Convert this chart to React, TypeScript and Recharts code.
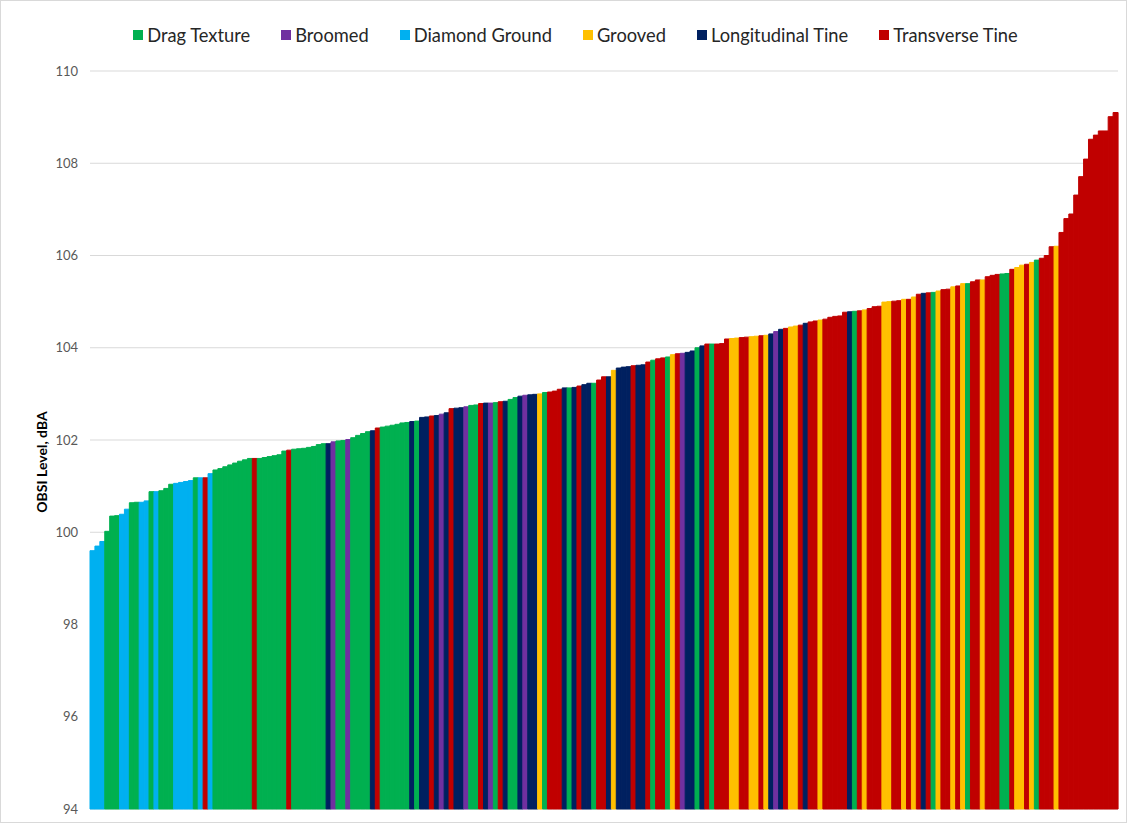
import { Bar, BarChart, CartesianGrid, Cell, XAxis, YAxis } from "recharts";

// texture codes: G drag, P broomed, D diamond ground, Y grooved, N longitudinal tine, R transverse tine
const textureCodes = ["G", "P", "D", "Y", "N", "R"];
const textureNames = ["Drag Texture", "Broomed", "Diamond Ground", "Grooved", "Longitudinal Tine", "Transverse Tine"];
const textureColors = ["#00B050", "#7030A0", "#00B0F0", "#FFC000", "#002060", "#C00000"];

const yTicks = [94, 96, 98, 100, 102, 104, 106, 108, 110];

// one code per test section, sorted by OBSI level
const sectionTexture = (
  "DDDGGGDDGG" + "DDGDGGGDDD" + "DGDRDGGGGG" + "GGGRGGGGGG" + "RGGGGGGGNP" +
  "GGPGGGGNRG" + "GGGGGNGNNR" + "NPNRNNPGGR" + "NPGRNGGNPN" + "NYGRRRNGNR" +
  "NNGRRNYNNN" + "RNNRGRRGYR" + "PNNGNRGRRR" + "YYRRYYRYNP" + "NRYYRNRRYR" +
  "RRRRNGRYRR" + "RYYRRYRYRN" + "RGYRRYRYGR" + "RYRRRGGRYY" + "RYGRRRYRRR" +
  "RRRRRRRRR"
).split("");

const obsiLevel = [
  99.6, 99.7, 99.8, 100.02, 100.35, 100.36, 100.39, 100.5, 100.64, 100.65,
  100.65, 100.68, 100.88, 100.88, 100.9, 100.95, 101.04, 101.06, 101.08, 101.1,
  101.12, 101.18, 101.18, 101.18, 101.27, 101.35, 101.38, 101.42, 101.46, 101.5,
  101.54, 101.57, 101.6, 101.6, 101.6, 101.62, 101.64, 101.66, 101.68, 101.76,
  101.78, 101.8, 101.81, 101.82, 101.84, 101.86, 101.9, 101.92, 101.92, 101.96,
  101.98, 101.99, 102.01, 102.05, 102.1, 102.14, 102.18, 102.2, 102.26, 102.28,
  102.3, 102.32, 102.34, 102.37, 102.38, 102.4, 102.41, 102.49, 102.5, 102.52,
  102.53, 102.56, 102.59, 102.68, 102.69, 102.7, 102.72, 102.75, 102.76, 102.79,
  102.8, 102.8, 102.81, 102.83, 102.84, 102.88, 102.92, 102.95, 102.97, 102.98,
  102.99, 103.0, 103.03, 103.04, 103.06, 103.1, 103.13, 103.13, 103.14, 103.17,
  103.2, 103.23, 103.23, 103.3, 103.37, 103.37, 103.51, 103.56, 103.58, 103.59,
  103.61, 103.62, 103.63, 103.69, 103.73, 103.76, 103.78, 103.8, 103.85, 103.87,
  103.88, 103.9, 103.93, 104.0, 104.04, 104.08, 104.08, 104.08, 104.09, 104.19,
  104.2, 104.21, 104.22, 104.23, 104.24, 104.25, 104.26, 104.27, 104.3, 104.35,
  104.4, 104.42, 104.45, 104.47, 104.49, 104.53, 104.56, 104.58, 104.6, 104.62,
  104.66, 104.68, 104.69, 104.77, 104.78, 104.79, 104.8, 104.82, 104.85, 104.89,
  104.9, 104.99, 105.0, 105.01, 105.02, 105.05, 105.05, 105.1, 105.16, 105.18,
  105.19, 105.2, 105.23, 105.26, 105.27, 105.32, 105.34, 105.39, 105.39, 105.43,
  105.47, 105.47, 105.54, 105.57, 105.59, 105.6, 105.61, 105.7, 105.74, 105.79,
  105.81, 105.85, 105.9, 105.94, 106.0, 106.19, 106.2, 106.5, 106.8, 106.9,
  107.31, 107.71, 108.09, 108.52, 108.61, 108.7, 108.7, 109.01, 109.1,
];

const rows = obsiLevel.map((v, i) => ({ section: String(i + 1), obsi: v, texture: sectionTexture[i] }));

const FONT = "Lato, 'Liberation Sans', Arial, sans-serif";

function colorFor(code: string) {
  return textureColors[textureCodes.indexOf(code)];
}

function YLabel(props: any) {
  const vb = props.viewBox || { x: 0, y: 70, height: 738 };
  const x = vb.x + 40;
  const y = vb.y + vb.height / 2 + 22;
  return (
    <text
      x={x}
      y={y}
      transform={`rotate(-90 ${x} ${y})`}
      textAnchor="middle"
      dominantBaseline="central"
      fontSize={14}
      fontWeight="bold"
      fill="#000"
      fontFamily={FONT}
    >
      OBSI Level, dBA
    </text>
  );
}

export default function App() {
  return (
    <div
      style={{
        position: "absolute",
        left: 0,
        top: 0,
        width: 1127,
        height: 823,
        boxSizing: "border-box",
        border: "1px solid #d9d9d9",
        background: "#fff",
        fontFamily: FONT,
      }}
    >
      <div
        style={{
          position: "absolute",
          top: 22,
          left: 12,
          width: 1125,
          display: "flex",
          justifyContent: "center",
          gap: 31,
          fontSize: 18.3,
          color: "#262626",
          lineHeight: "24px",
        }}
      >
        {textureNames.map((name, i) => (
          <div key={name} style={{ display: "flex", alignItems: "center", gap: 4 }}>
            <span style={{ width: 10, height: 10, background: textureColors[i], display: "inline-block" }} />
            <span>{name}</span>
          </div>
        ))}
      </div>
      <BarChart
        width={1125}
        height={821}
        data={rows}
        margin={{ top: 70, right: 8, bottom: 13, left: 0 }}
        barCategoryGap={0}
        barGap={0}
      >
        <CartesianGrid vertical={false} stroke="#d9d9d9" />
        <XAxis dataKey="section" height={0} tick={false} tickLine={false} axisLine={{ stroke: "#d9d9d9" }} />
        <YAxis
          domain={[94, 110]}
          ticks={yTicks}
          width={89}
          axisLine={false}
          tickLine={false}
          tickSize={0}
          tickMargin={12}
          tick={{ fontSize: 13, fill: "#595959", fontFamily: FONT }}
          label={<YLabel />}
        />
        <Bar dataKey="obsi" isAnimationActive={false}>
          {rows.map((r) => (
            <Cell key={r.section} fill={colorFor(r.texture)} stroke={colorFor(r.texture)} strokeWidth={1} />
          ))}
        </Bar>
      </BarChart>
    </div>
  );
}
